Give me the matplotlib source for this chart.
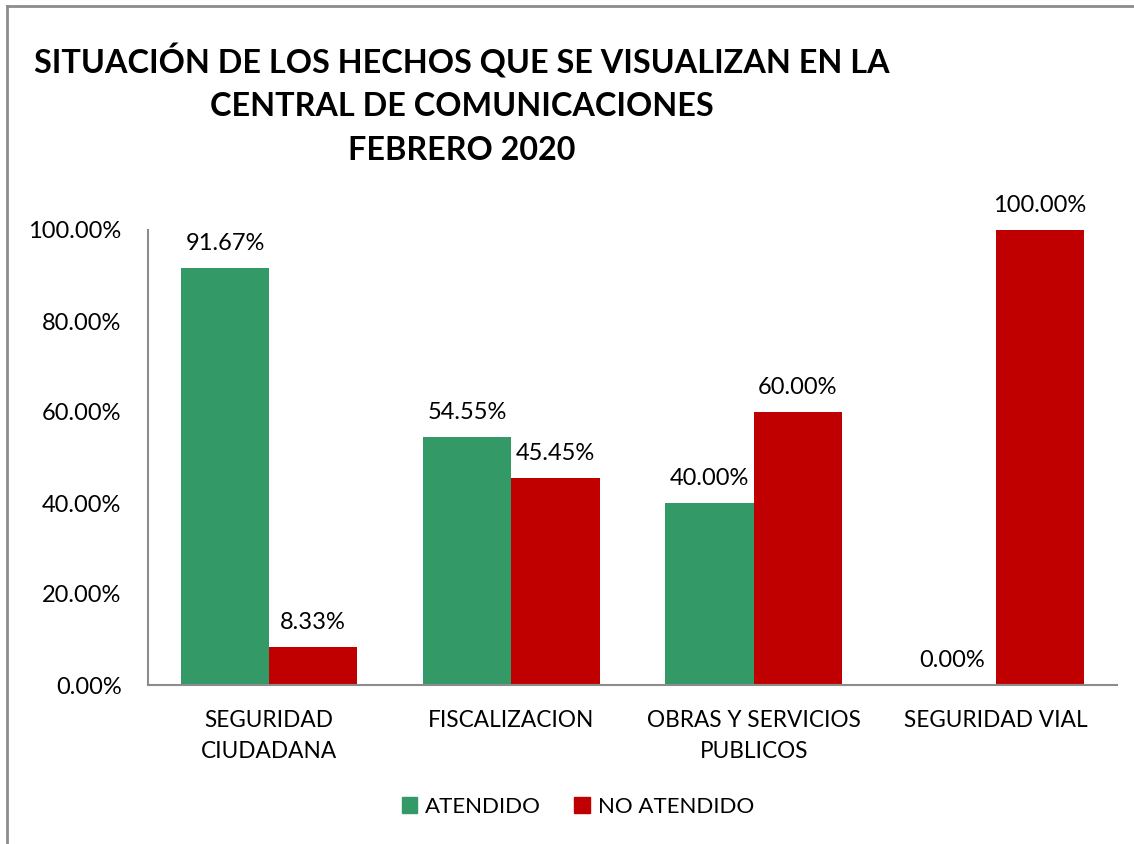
import matplotlib.pyplot as plt
import numpy as np
from matplotlib.lines import Line2D
from matplotlib.patches import Patch

plt.rcParams['font.family'] = ['Lato', 'DejaVu Sans']

categorias = ["SEGURIDAD\nCIUDADANA", "FISCALIZACION", "OBRAS Y SERVICIOS\nPUBLICOS", "SEGURIDAD VIAL"]
atendido = [91.67, 54.55, 40.00, 0.00]
no_atendido = [8.33, 45.45, 60.00, 100.00]
ticks_y = [0, 20, 40, 60, 80, 100]

verde = "#339966"
rojo = "#C00000"

fig = plt.figure(figsize=(11.34, 8.44), dpi=100)
ax = fig.add_axes([148 / 1134, 1 - 685 / 844, (1117 - 148) / 1134, (685 - 230) / 844])

x = np.arange(len(categorias))
ancho = 0.364
b1 = ax.bar(x - ancho / 2, atendido, ancho, color=verde, label="ATENDIDO")
b2 = ax.bar(x + ancho / 2, no_atendido, ancho, color=rojo, label="NO ATENDIDO")

# etiquetas de valor encima de cada barra
for barras, vals in ((b1, atendido), (b2, no_atendido)):
    for b, v in zip(barras, vals):
        ax.annotate(f"{v:.2f}%", (b.get_x() + b.get_width() / 2, v),
                    xytext=(0, 10), textcoords="offset points",
                    ha="center", va="bottom", fontsize=17)

ax.set_xlim(-0.5, len(categorias) - 0.5)
ax.set_ylim(0, 100)
ax.set_yticks(ticks_y)
ax.set_yticklabels([f"{t:.2f}%" for t in ticks_y])
ax.set_xticks(x)
ax.set_xticklabels(categorias, linespacing=1.6)
ax.tick_params(axis="both", length=0)
ax.tick_params(axis="y", pad=19, labelsize=17)
ax.tick_params(axis="x", pad=18, labelsize=16.3)

for lado in ("top", "right"):
    ax.spines[lado].set_visible(False)
for lado in ("left", "bottom"):
    ax.spines[lado].set_color("#8c8c8c")
    ax.spines[lado].set_linewidth(1.5)

fig.text(462 / 1134, 1 - 104 / 844,
         "SITUACIÓN DE LOS HECHOS QUE SE VISUALIZAN EN LA\nCENTRAL DE COMUNICACIONES\nFEBRERO 2020",
         ha="center", va="center", fontsize=23.3, fontweight="bold", linespacing=1.6)

leyenda = [Patch(color=verde, label="ATENDIDO"), Patch(color=rojo, label="NO ATENDIDO")]
fig.legend(handles=leyenda, loc="center", bbox_to_anchor=(578 / 1134, 1 - 807 / 844),
           ncol=2, frameon=False, fontsize=16, handlelength=0.7, handleheight=0.7,
           handletextpad=0.35, columnspacing=1.5)

# marco del grafico (solo borde superior e izquierdo)
fig.add_artist(Line2D([7 / 1134, 7 / 1134], [0, 1 - 6 / 844], color="#8c8c8c", lw=2))
fig.add_artist(Line2D([7 / 1134, 1], [1 - 6 / 844, 1 - 6 / 844], color="#8c8c8c", lw=2))

fig.savefig("out.png", dpi=100)
